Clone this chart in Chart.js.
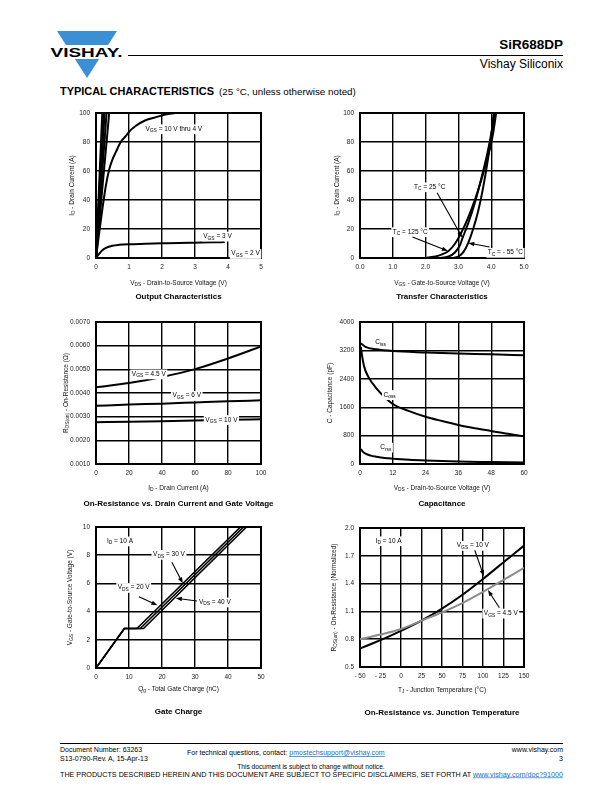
<!DOCTYPE html>
<html>
<head>
<meta charset="utf-8">
<script src="https://cdn.jsdelivr.net/npm/chart.js@4.4.1/dist/chart.umd.min.js"></script>
<style>
body { margin: 0; width: 612px; height: 792px; position: relative; background: #fff; overflow: hidden;
       font-family: "Liberation Sans", Arial, sans-serif; }
canvas { position: absolute; }
svg { position: absolute; left: 0; top: 0; }
</style>
</head>
<body>
<svg width="612" height="792" font-family="Liberation Sans, Arial, sans-serif">
  <!-- header -->
  <polygon points="57,31 117,31 87,78" fill="#3b8fd4"/>
  <rect x="44" y="45" width="80" height="14" fill="#fff"/>
  <text x="86.5" y="57" font-size="13.5" font-weight="bold" text-anchor="middle" textLength="72" lengthAdjust="spacingAndGlyphs">VISHAY.</text>
  <line x1="128" y1="55.5" x2="563" y2="55.5" stroke="#000" stroke-width="1"/>
  <text x="563" y="49" font-size="13.5" font-weight="bold" text-anchor="end">SiR688DP</text>
  <text x="563" y="68" font-size="12" text-anchor="end">Vishay Siliconix</text>
  <text x="60" y="95" font-size="10.5" font-weight="bold" textLength="154" lengthAdjust="spacingAndGlyphs">TYPICAL CHARACTERISTICS</text>
  <text x="219" y="95" font-size="9.8">(25 °C, unless otherwise noted)</text>
  <!-- footer -->
  <line x1="60" y1="743.5" x2="563" y2="743.5" stroke="#000" stroke-width="1"/>
  <text x="60" y="752" font-size="7">Document Number: 63263</text>
  <text x="60" y="760.5" font-size="7">S13-0790-Rev. A, 15-Apr-13</text>
  <text x="187" y="755" font-size="7">For technical questions, contact: <tspan fill="#1a6fc4" text-decoration="underline">pmostechsupport@vishay.com</tspan></text>
  <text x="563" y="752" font-size="7" text-anchor="end">www.vishay.com</text>
  <text x="563" y="760.5" font-size="7" text-anchor="end">3</text>
  <text x="311" y="768.5" font-size="6.6" text-anchor="middle">This document is subject to change without notice.</text>
  <text x="60" y="776.5" font-size="6.6" textLength="503" lengthAdjust="spacingAndGlyphs">THE PRODUCTS DESCRIBED HEREIN AND THIS DOCUMENT ARE SUBJECT TO SPECIFIC DISCLAIMERS, SET FORTH AT <tspan fill="#1a6fc4" text-decoration="underline">www.vishay.com/doc?91000</tspan></text>
</svg>

<script>
// ---------- data ----------
// output characteristics: V_DS (V) vs I_D (A)
// V_DS where the 10 V ... 4.5 V lines reach 100 A (lines start at the origin)
const outSteepEnd = [0.19, 0.22, 0.26, 0.32, 0.40];
const out4Vds = [0, 0.1, 0.2, 0.3, 0.4, 0.5, 0.6, 0.75, 0.9, 1.0, 1.2, 1.5, 1.8, 2.1, 2.4];
const out4Id  = [0, 18, 35, 50, 61, 68, 73, 80, 84, 87, 91, 95, 97, 99, 100];
const out3Vds = [0, 0.1, 0.2, 0.3, 0.5, 0.7, 1.0, 1.5, 2.0, 2.5, 3.0, 3.5, 3.9];
const out3Id  = [0, 3, 5.5, 7, 8.5, 9.1, 9.5, 9.8, 10.1, 10.4, 10.6, 10.8, 11];

// transfer characteristics: V_GS (V) vs I_D (A)
const trVgs125 = [1.9, 2.3, 2.5, 2.7, 2.9, 3.1, 3.3, 3.5, 3.7, 3.9, 4.05, 4.15];
const trId125  = [0, 1, 2.5, 4.9, 10, 18, 28, 40, 54, 70, 85, 100];
const trVgs25  = [2.4, 2.7, 2.9, 3.05, 3.13, 3.3, 3.5, 3.7, 3.9, 4.05, 4.1];
const trId25   = [0, 1, 4, 9, 14, 24, 38, 55, 74, 92, 100];
const trVgsM55 = [2.8, 3.0, 3.15, 3.3, 3.45, 3.6, 3.75, 3.9, 4.0, 4.08];
const trIdM55  = [0, 1, 4, 10.5, 20, 32, 48, 68, 84, 100];

// on-resistance vs drain current: I_D (A) vs R_DS(on) (ohm)
const ronId   = [0, 20, 40, 60, 80, 100];
const ron45V  = [0.00424, 0.00442, 0.00468, 0.00501, 0.00546, 0.00597];
const ron6V   = [0.00346, 0.00351, 0.00355, 0.00360, 0.00365, 0.00369];
const ron10V  = [0.00276, 0.00279, 0.00281, 0.00284, 0.00287, 0.00289];

// capacitance: V_DS (V) vs C (pF)
const capCissV = [0.3, 2, 6, 12, 24, 36, 48, 60];
const capCiss  = [3400, 3300, 3230, 3180, 3140, 3110, 3090, 3060];
const capCossV = [0.3, 0.8, 1.5, 3, 6, 12, 18, 24, 30, 36, 42, 48, 54, 60];
const capCoss  = [3300, 3030, 2750, 2460, 2130, 1690, 1490, 1330, 1210, 1100, 1010, 930, 850, 780];
const capCrssV = [0.3, 1, 2, 4, 6, 9, 12, 18, 24, 36, 48, 60];
const capCrss  = [420, 350, 290, 235, 205, 170, 150, 120, 100, 70, 55, 40];

// gate charge: Q_g (nC) vs V_GS (V)
const qg20 = [0, 8.6, 12.4, 43.8];
const qg30 = [0, 8.6, 13.4, 44.7];
const qg40 = [0, 8.6, 14.4, 45.6];
const qgVgs = [0, 2.8, 2.8, 10];

// on-resistance vs junction temperature: T_J (degC) vs normalized R_DS(on)
const tjTemp = [-50, -25, 0, 25, 50, 75, 100, 125, 150];
const tj10V  = [0.70, 0.79, 0.89, 1.00, 1.13, 1.28, 1.45, 1.63, 1.81];
const tj45V  = [0.80, 0.85, 0.91, 1.00, 1.09, 1.19, 1.31, 1.44, 1.57];

// ---------- drawing helpers ----------
const FONT = '"Liberation Sans", Arial, sans-serif';

// "V_{GS} = 3 V" -> text pieces, the _{...} part is a subscript
function parseRich(s) {
  const out = [];
  const re = /_\{([^}]*)\}/g;
  let last = 0, m;
  while ((m = re.exec(s))) {
    if (m.index > last) out.push({t: s.slice(last, m.index)});
    out.push({t: m[1], sub: true});
    last = re.lastIndex;
  }
  if (last < s.length) out.push({t: s.slice(last)});
  return out;
}

function drawRich(ctx, s, x, y, size, align, o) {
  o = o || {};
  const segs = parseRich(s);
  const font = sz => (o.bold ? 'bold ' : '') + sz + 'px ' + FONT;
  let w = 0;
  segs.forEach(g => {
    ctx.font = font(g.sub ? size * 0.75 : size);
    g.w = ctx.measureText(g.t).width;
    w += g.w;
  });
  let x0 = align === 'center' ? x - w / 2 : align === 'right' ? x - w : x;
  if (o.bg) {
    ctx.fillStyle = '#fff';
    ctx.fillRect(x0 - 1.5, y - size * 0.7, w + 3, size * 1.5);
  }
  ctx.fillStyle = o.color || '#000';
  ctx.textBaseline = 'middle';
  ctx.textAlign = 'left';
  segs.forEach(g => {
    ctx.font = font(g.sub ? size * 0.75 : size);
    ctx.fillText(g.t, x0, g.sub ? y + size * 0.3 : y);
    x0 += g.w;
  });
}

// frame, labels, arrows and titles for one chart
function decor(d) {
  return {
    id: 'decor',
    beforeDatasetsDraw(chart) {
      const ctx = chart.ctx, a = chart.chartArea;
      ctx.save();
      ctx.strokeStyle = '#000';
      ctx.lineWidth = 2;
      ctx.strokeRect(a.left, a.top, a.right - a.left, a.bottom - a.top);
      ctx.restore();
    },
    afterDatasetsDraw(chart) {
      const ctx = chart.ctx, a = chart.chartArea;
      const sx = chart.scales.x, sy = chart.scales.y;
      ctx.save();
      (d.notes || []).forEach(n => {
        drawRich(ctx, n.text, sx.getPixelForValue(n.x), sy.getPixelForValue(n.y), 6.5, n.align || 'left', {bg: true});
      });
      ctx.strokeStyle = '#000';
      ctx.fillStyle = '#000';
      ctx.lineWidth = 1.1;
      (d.arrows || []).forEach(([x1, y1, x2, y2]) => {
        const p1 = [sx.getPixelForValue(x1), sy.getPixelForValue(y1)];
        const p2 = [sx.getPixelForValue(x2), sy.getPixelForValue(y2)];
        const ang = Math.atan2(p2[1] - p1[1], p2[0] - p1[0]);
        ctx.beginPath();
        ctx.moveTo(p1[0], p1[1]);
        ctx.lineTo(p2[0] - 4 * Math.cos(ang), p2[1] - 4 * Math.sin(ang));
        ctx.stroke();
        ctx.beginPath();
        ctx.moveTo(p2[0], p2[1]);
        ctx.lineTo(p2[0] - 6 * Math.cos(ang) + 2.2 * Math.sin(ang), p2[1] - 6 * Math.sin(ang) - 2.2 * Math.cos(ang));
        ctx.lineTo(p2[0] - 6 * Math.cos(ang) - 2.2 * Math.sin(ang), p2[1] - 6 * Math.sin(ang) + 2.2 * Math.cos(ang));
        ctx.closePath();
        ctx.fill();
      });
      const cx = (a.left + a.right) / 2;
      drawRich(ctx, d.xTitle, cx, a.bottom + d.xDy, 6.5, 'center', {color: '#111'});
      drawRich(ctx, d.caption, cx, a.bottom + d.capDy, 8, 'center', {bold: true});
      ctx.translate(a.left - d.yDx, (a.top + a.bottom) / 2);
      ctx.rotate(-Math.PI / 2);
      drawRich(ctx, d.yTitle, 0, 0, 6.5, 'center', {color: '#111'});
      ctx.restore();
    }
  };
}

function line(xs, ys, o) {
  return Object.assign({
    data: xs.map((x, i) => ({x: x, y: ys[i]})),
    borderColor: '#000', borderWidth: 2, pointRadius: 0, fill: false,
    cubicInterpolationMode: 'monotone'
  }, o || {});
}

// box = plot area in page pixels
function makeChart(box, datasets, xAxis, yAxis, d) {
  const padL = 50, padT = 10, padR = 16, padB = 52, xH = 14;
  const cv = document.createElement('canvas');
  cv.width = box.R - box.L + padL + padR;
  cv.height = box.B - box.T + padT + padB;
  cv.style.left = (box.L - padL) + 'px';
  cv.style.top = (box.T - padT) + 'px';
  document.body.appendChild(cv);
  const axis = (ax, pad, fit) => ({
    type: 'linear', min: ax.min, max: ax.max,
    grid: {color: '#000', lineWidth: 1.4, drawTicks: false},
    border: {display: false},
    ticks: {
      stepSize: ax.step, autoSkip: false, maxRotation: 0, padding: pad,
      color: '#222', font: {family: FONT, size: 6.5},
      callback: ax.fmt || (v => String(v))
    },
    afterFit: fit
  });
  new Chart(cv, {
    type: 'line',
    data: {datasets: datasets},
    options: {
      responsive: false, animation: false, devicePixelRatio: 1,
      layout: {padding: {left: 0, top: padT, right: padR, bottom: padB - xH}},
      plugins: {legend: {display: false}, tooltip: {enabled: false}},
      scales: {
        x: axis(xAxis, 5, s => { s.height = xH; }),
        y: axis(yAxis, 6, s => { s.width = padL; })
      }
    },
    plugins: [decor(d)]
  });
}

// ---------- charts ----------
// output characteristics
makeChart({L: 96, R: 261, T: 113, B: 258},
  outSteepEnd.map(e => line([0, e], [0, 100], {cubicInterpolationMode: 'default', tension: 0}))
    .concat([line(out4Vds, out4Id), line(out3Vds, out3Id)]),
  {min: 0, max: 5, step: 1},
  {min: 0, max: 100, step: 20},
  {
    xTitle: 'V_{DS} - Drain-to-Source Voltage (V)', yTitle: 'I_{D} - Drain Current (A)',
    caption: 'Output Characteristics', xDy: 25, capDy: 39, yDx: 24,
    notes: [
      {text: 'V_{GS} = 10 V thru 4 V', x: 1.5, y: 89},
      {text: 'V_{GS} = 3 V', x: 3.25, y: 15},
      {text: 'V_{GS} = 2 V', x: 4.1, y: 3}
    ]
  });

// transfer characteristics
makeChart({L: 360, R: 524, T: 113, B: 258},
  [line(trVgs125, trId125), line(trVgs25, trId25), line(trVgsM55, trIdM55)],
  {min: 0, max: 5, step: 1, fmt: v => v.toFixed(1)},
  {min: 0, max: 100, step: 20},
  {
    xTitle: 'V_{GS} - Gate-to-Source Voltage (V)', yTitle: 'I_{D} - Drain Current (A)',
    caption: 'Transfer Characteristics', xDy: 25, capDy: 39, yDx: 23,
    notes: [
      {text: 'T_{C} = 25 °C', x: 1.65, y: 49},
      {text: 'T_{C} = 125 °C', x: 1.0, y: 18},
      {text: 'T_{C} = - 55 °C', x: 4.97, y: 3.8, align: 'right'}
    ],
    arrows: [[2.35, 45, 3.12, 14], [1.6, 14.5, 2.68, 4.9], [3.95, 7.6, 3.3, 10.3]]
  });

// on-resistance vs drain current
makeChart({L: 96, R: 261, T: 322, B: 464},
  [line(ronId, ron45V), line(ronId, ron6V), line(ronId, ron10V)],
  {min: 0, max: 100, step: 20},
  {min: 0.001, max: 0.007, step: 0.001, fmt: v => v.toFixed(4)},
  {
    xTitle: 'I_{D} - Drain Current (A)', yTitle: 'R_{DS(on)} - On-Resistance (Ω)',
    caption: 'On-Resistance vs. Drain Current and Gate Voltage', xDy: 24, capDy: 40, yDx: 30,
    notes: [
      {text: 'V_{GS} = 4.5 V', x: 32, y: 0.0048, align: 'center'},
      {text: 'V_{GS} = 6 V', x: 55, y: 0.00389, align: 'center'},
      {text: 'V_{GS} = 10 V', x: 76, y: 0.00287, align: 'center'}
    ]
  });

// capacitance
makeChart({L: 360, R: 524, T: 322, B: 464},
  [line(capCissV, capCiss), line(capCossV, capCoss), line(capCrssV, capCrss)],
  {min: 0, max: 60, step: 12},
  {min: 0, max: 4000, step: 800},
  {
    xTitle: 'V_{DS} - Drain-to-Source Voltage (V)', yTitle: 'C - Capacitance (pF)',
    caption: 'Capacitance', xDy: 24, capDy: 40, yDx: 30,
    notes: [
      {text: 'C_{iss}', x: 5.6, y: 3420},
      {text: 'C_{oss}', x: 8.6, y: 1950},
      {text: 'C_{rss}', x: 7.4, y: 470}
    ]
  });

// gate charge
makeChart({L: 96, R: 261, T: 527, B: 668},
  [qg20, qg30, qg40].map(q => line(q, qgVgs, {cubicInterpolationMode: 'default', tension: 0, borderWidth: 1.6})),
  {min: 0, max: 50, step: 10},
  {min: 0, max: 10, step: 2},
  {
    xTitle: 'Q_{g} - Total Gate Charge (nC)', yTitle: 'V_{GS} - Gate-to-Source Voltage (V)',
    caption: 'Gate Charge', xDy: 21, capDy: 44, yDx: 26,
    notes: [
      {text: 'I_{D} = 10 A', x: 3.3, y: 9.0},
      {text: 'V_{DS} = 30 V', x: 17.3, y: 8.05},
      {text: 'V_{DS} = 20 V', x: 6.6, y: 5.7},
      {text: 'V_{DS} = 40 V', x: 31.2, y: 4.67}
    ],
    arrows: [[23, 7.5, 26.3, 6.0], [13, 5.05, 18.6, 4.45], [30.6, 4.75, 24.2, 4.95]]
  });

// on-resistance vs junction temperature
makeChart({L: 360, R: 524, T: 528, B: 667},
  [line(tjTemp, tj45V, {borderColor: '#8c8c8c'}), line(tjTemp, tj10V)],
  {min: -50, max: 150, step: 25, fmt: v => v < 0 ? '- ' + (-v) : String(v)},
  {min: 0.5, max: 2.0, step: 0.3, fmt: v => v.toFixed(1)},
  {
    xTitle: 'T_{J} - Junction Temperature (°C)', yTitle: 'R_{DS(on)} - On-Resistance (Normalized)',
    caption: 'On-Resistance vs. Junction Temperature', xDy: 23, capDy: 46, yDx: 26,
    notes: [
      {text: 'I_{D} = 10 A', x: -31, y: 1.86},
      {text: 'V_{GS} = 10 V', x: 68, y: 1.81},
      {text: 'V_{GS} = 4.5 V', x: 101, y: 1.08}
    ],
    arrows: [[90, 1.76, 101, 1.48], [120, 1.14, 106, 1.33]]
  });
</script>
</body>
</html>
